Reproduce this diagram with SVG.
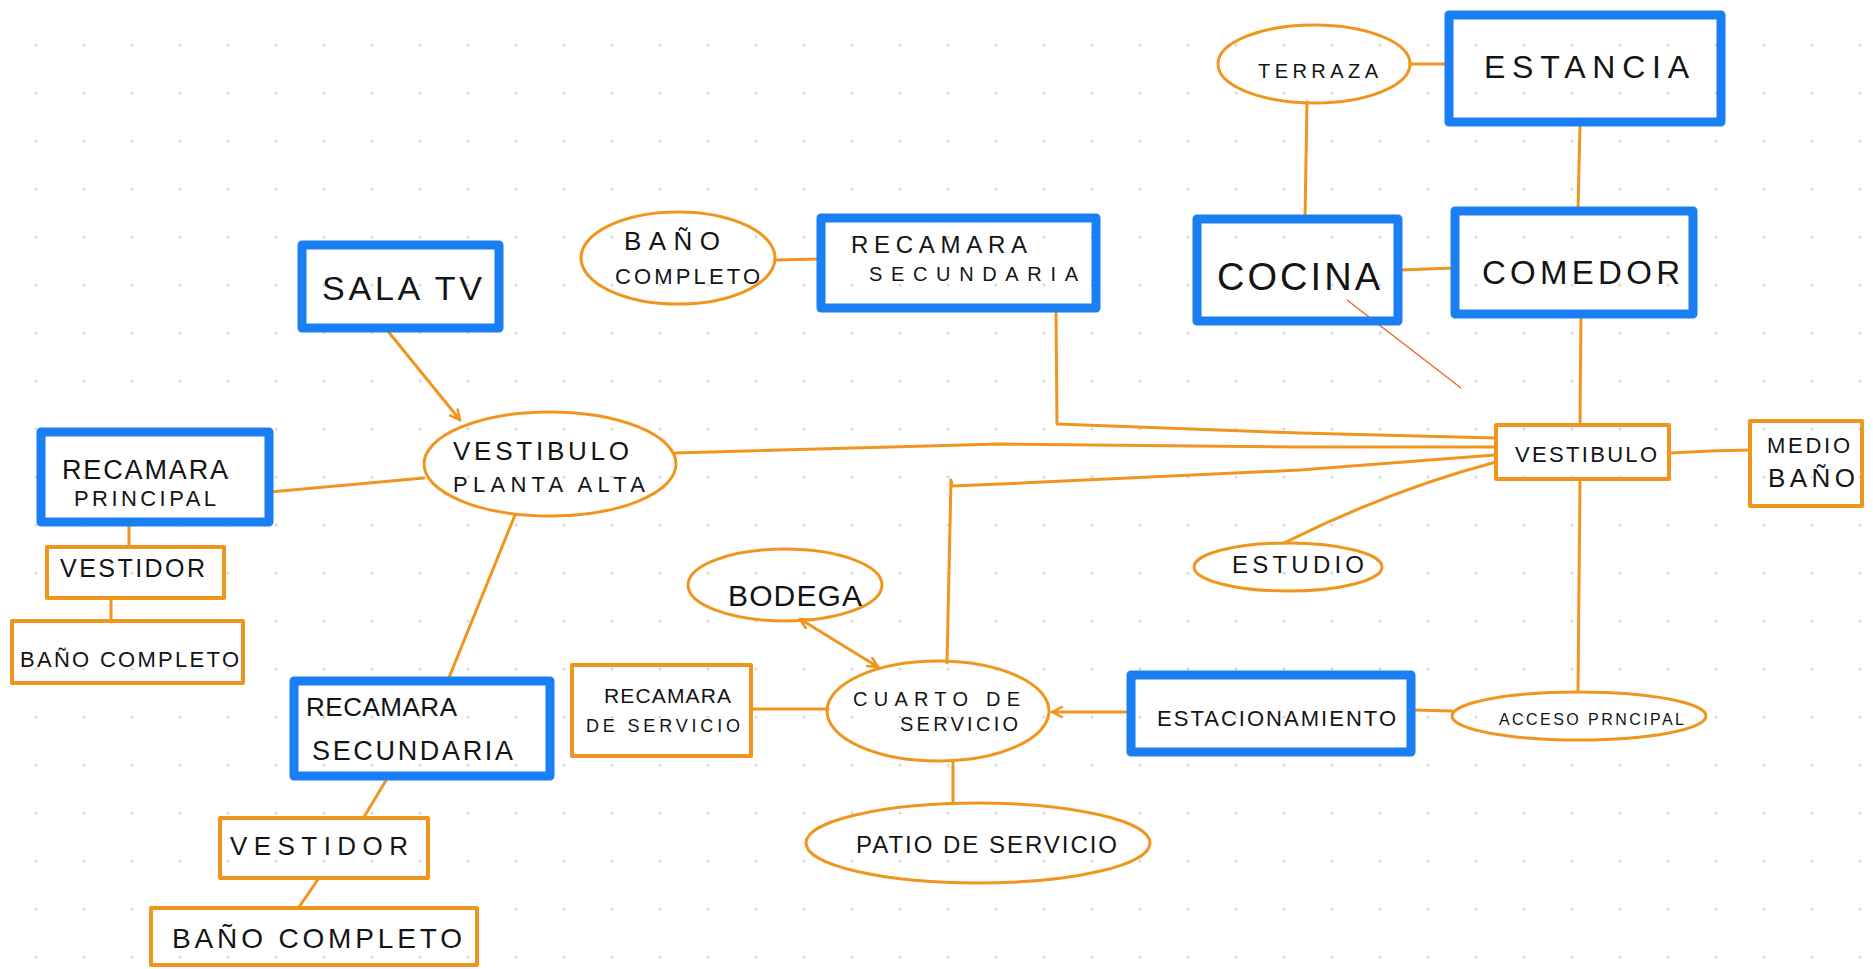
<svg xmlns="http://www.w3.org/2000/svg" width="1873" height="969" viewBox="0 0 1873 969">
<defs>
<pattern id="dots" patternUnits="userSpaceOnUse" x="12" y="21" width="48" height="48">
<circle cx="24" cy="24" r="1.6" fill="#d9d9d9"/>
</pattern>
<marker id="arr" viewBox="0 0 12 12" refX="11" refY="6" markerWidth="12" markerHeight="12" markerUnits="userSpaceOnUse" orient="auto-start-reverse">
<path d="M1,1 L11,6 L1,11" fill="none" stroke="#f0961e" stroke-width="2.5" stroke-linecap="round" stroke-linejoin="round"/>
</marker>
<style>
.blue{fill:none;stroke:#1a7ff2;stroke-width:9;stroke-linejoin:round}
.orect{fill:none;stroke:#f0961e;stroke-width:4;stroke-linejoin:round}
.oell{fill:none;stroke:#f0961e;stroke-width:3}
.con{fill:none;stroke:#f0961e;stroke-width:3;stroke-linecap:round;stroke-linejoin:round}
text{font-family:"Liberation Sans","DejaVu Sans",sans-serif;fill:#141414}
</style>
</defs>
<rect width="1873" height="969" fill="#ffffff"/>
<rect width="1873" height="969" fill="url(#dots)"/>

<g id="connectors">
<path class="con" d="M1410,64 L1449,64"/>
<path class="con" d="M1307,102 L1305,219"/>
<path class="con" d="M1580,124 L1578,210"/>
<path class="con" d="M1399,270 L1455,268"/>
<path class="con" d="M1581,314 L1580,425"/>
<path class="con" d="M1670,453 L1710,451 L1750,450"/>
<path class="con" d="M1580,480 L1578,692"/>
<path class="con" d="M1413,710 L1452,711"/>
<path class="con" d="M1129,712 L1052,712" marker-end="url(#arr)"/>
<path class="con" d="M752,709 L828,709"/>
<path class="con" d="M953,761 L953,802"/>
<path class="con" d="M800,619 L878,667" marker-start="url(#arr)" marker-end="url(#arr)"/>
<path class="con" d="M947,663 L951,480 L952,486 L1000,484 L1300,470 L1495,455"/>
<path class="con" d="M675,453 L1000,444 L1300,447 L1495,447"/>
<path class="con" d="M1056,312 L1057,424 L1300,433 L1496,438"/>
<path class="con" d="M1284,543 Q1390,490 1496,462"/>
<path class="con" d="M387,330 L460,420" marker-end="url(#arr)"/>
<path class="con" d="M270,492 L424,478" stroke-width="5"/>
<path class="con" d="M129,525 L129,547"/>
<path class="con" d="M111,598 L111,622"/>
<path class="con" d="M515,515 L448,680"/>
<path class="con" d="M388,777 L364,817"/>
<path class="con" d="M319,878 L299,907"/>
<path class="con" d="M775,260 L820,259"/>
<path d="M1347,300 L1461,388" fill="none" stroke="#f06a2a" stroke-width="1.5"/>
</g>

<g id="terraza">
<ellipse class="oell" cx="1314" cy="64" rx="96" ry="39"/>
<text x="1258" y="78" font-size="20" textLength="120">TERRAZA</text>
</g>
<g id="estancia">
<rect class="blue" x="1449" y="15" width="272" height="107"/>
<text x="1484" y="78" font-size="32" textLength="205">ESTANCIA</text>
</g>
<g id="cocina">
<rect class="blue" x="1197" y="219" width="201" height="102"/>
<text x="1217" y="290" font-size="38" textLength="163">COCINA</text>
</g>
<g id="comedor">
<rect class="blue" x="1455" y="211" width="238" height="103"/>
<text x="1482" y="284" font-size="33" textLength="198">COMEDOR</text>
</g>
<g id="vestibulo">
<rect class="orect" x="1496" y="425" width="173" height="54" stroke-width="6"/>
<text x="1515" y="462" font-size="22" textLength="142">VESTIBULO</text>
</g>
<g id="medio-bano">
<rect class="orect" x="1750" y="421" width="112" height="85" stroke-width="3"/>
<text x="1767" y="453" font-size="22" textLength="83">MEDIO</text>
<text x="1768" y="487" font-size="26" textLength="87">BAÑO</text>
</g>
<g id="estudio">
<ellipse class="oell" cx="1288" cy="567" rx="94" ry="24"/>
<text x="1232" y="573" font-size="24" textLength="132">ESTUDIO</text>
</g>
<g id="acceso-principal">
<ellipse class="oell" cx="1579" cy="716" rx="127" ry="24" stroke-width="2"/>
<text x="1499" y="725" font-size="16" textLength="185">ACCESO PRNCIPAL</text>
</g>
<g id="estacionamiento">
<rect class="blue" x="1131" y="675" width="280" height="77"/>
<text x="1157" y="726" font-size="22" textLength="239">ESTACIONAMIENTO</text>
</g>
<g id="cuarto-servicio">
<ellipse class="oell" cx="938" cy="711" rx="111" ry="50"/>
<text x="853" y="706" font-size="20" textLength="167">CUARTO DE</text>
<text x="900" y="731" font-size="20" textLength="118">SERVICIO</text>
</g>
<g id="recamara-servicio">
<rect class="orect" x="572" y="665" width="179" height="91"/>
<text x="604" y="703" font-size="21" textLength="127">RECAMARA</text>
<text x="586" y="732" font-size="18" textLength="154">DE SERVICIO</text>
</g>
<g id="patio-servicio">
<ellipse class="oell" cx="978" cy="843" rx="172" ry="40"/>
<text x="856" y="853" font-size="24" textLength="261">PATIO DE SERVICIO</text>
</g>
<g id="bodega">
<ellipse class="oell" cx="785" cy="585" rx="97" ry="36"/>
<text x="728" y="606" font-size="30" textLength="134">BODEGA</text>
</g>
<g id="vestibulo-planta-alta">
<ellipse class="oell" cx="550" cy="464" rx="126" ry="52"/>
<text x="453" y="460" font-size="26" textLength="176">VESTIBULO</text>
<text x="453" y="492" font-size="22" textLength="192">PLANTA ALTA</text>
</g>
<g id="sala-tv">
<rect class="blue" x="302" y="245" width="197" height="83"/>
<text x="322" y="300" font-size="34" textLength="160">SALA TV</text>
</g>
<g id="recamara-principal">
<rect class="blue" x="41" y="432" width="228" height="90"/>
<text x="62" y="479" font-size="27" textLength="166">RECAMARA</text>
<text x="74" y="506" font-size="22" textLength="142">PRINCIPAL</text>
</g>
<g id="vestidor-1">
<rect class="orect" x="47" y="547" width="177" height="51"/>
<text x="60" y="577" font-size="25" textLength="145">VESTIDOR</text>
</g>
<g id="bano-completo-1">
<rect class="orect" x="12" y="621" width="231" height="62"/>
<text x="20" y="667" font-size="22" textLength="219">BAÑO COMPLETO</text>
</g>
<g id="recamara-secundaria-1">
<rect class="blue" x="294" y="681" width="256" height="95"/>
<text x="306" y="716" font-size="26" textLength="151">RECAMARA</text>
<text x="312" y="760" font-size="27" textLength="201">SECUNDARIA</text>
</g>
<g id="vestidor-2">
<rect class="orect" x="220" y="818" width="208" height="60"/>
<text x="230" y="855" font-size="26" textLength="178">VESTIDOR</text>
</g>
<g id="bano-completo-2">
<rect class="orect" x="151" y="908" width="326" height="57"/>
<text x="172" y="948" font-size="28" textLength="290">BAÑO COMPLETO</text>
</g>
<g id="bano-completo-3">
<ellipse class="oell" cx="678" cy="258" rx="97" ry="46"/>
<text x="624" y="250" font-size="26" textLength="96">BAÑO</text>
<text x="615" y="284" font-size="22" textLength="145">COMPLETO</text>
</g>
<g id="recamara-secundaria-2">
<rect class="blue" x="821" y="218" width="275" height="90"/>
<text x="851" y="253" font-size="24" textLength="176">RECAMARA</text>
<text x="869" y="281" font-size="20" textLength="209">SECUNDARIA</text>
</g>
</svg>
